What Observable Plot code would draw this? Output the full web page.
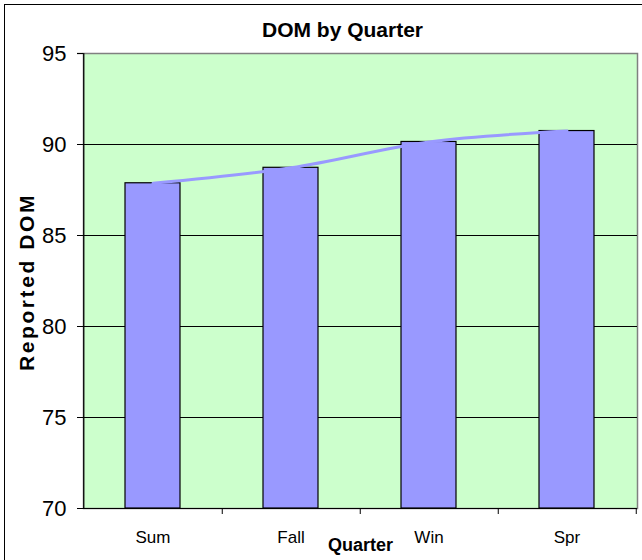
<!DOCTYPE html>
<html>
<head>
<meta charset="utf-8">
<script src="https://cdn.jsdelivr.net/npm/d3@7"></script>
<script src="https://cdn.jsdelivr.net/npm/@observablehq/plot@0.6"></script>
<style>
  html, body { margin: 0; padding: 0; background: #fff; }
  #wrap { position: relative; width: 642px; height: 560px; overflow: hidden; }
  #border { position: absolute; left: 4px; top: 4px; width: 800px; height: 800px; border: 1px solid #000; }
  #chart { position: absolute; left: 0; top: 0; }
</style>
</head>
<body>
<div id="wrap"><div id="border"></div><div id="chart"></div></div>
<script>
const quarters = ["Sum", "Fall", "Win", "Spr"];
const dom = [87.87, 88.72, 90.14, 90.74];
const yTicks = [70, 75, 80, 85, 90, 95];
const title = "DOM by Quarter";
const xLabel = "Quarter";
const yLabel = "Reported DOM";

const data = quarters.map((q, i) => ({quarter: q, dom: dom[i]}));
const font = "'Liberation Sans', Arial, sans-serif";
const W = 642, H = 560, mL = 83, mR = 5, mT = 53, mB = 52;
const frameW = W - mL - mR, frameH = H - mT - mB;
const halfStep = frameW / quarters.length / 2;

const chart = Plot.plot({
  width: W,
  height: H,
  marginLeft: mL,
  marginRight: mR,
  marginTop: mT,
  marginBottom: mB,
  style: {fontFamily: font, background: "transparent", overflow: "visible"},
  x: {domain: quarters, type: "band", paddingInner: 0.6, paddingOuter: 0.3, axis: null},
  y: {domain: [70, 95], axis: null},
  marks: [
    Plot.frame({fill: "#ccffcc", stroke: "#808080", strokeWidth: 1.5}),
    // gridlines + left ticks
    Plot.ruleY(yTicks.filter(d => d < 95), {y: d => d, stroke: "#000", strokeWidth: 1.2, insetLeft: -6}),
    Plot.ruleY([95], {y: d => d, stroke: "#000", strokeWidth: 1.2, insetLeft: -6, insetRight: frameW}),
    // left axis line
    Plot.ruleX([quarters[0]], {x: d => d, dx: -halfStep, stroke: "#000", strokeWidth: 1.2}),
    // category boundary ticks
    Plot.ruleX(quarters, {x: d => d, dx: halfStep, stroke: "#000", strokeWidth: 1, insetTop: frameH, insetBottom: -6}),
    Plot.barY(data, {x: "quarter", y1: 70, y2: "dom", fill: "#9999ff", stroke: "#000", strokeWidth: 1.2}),
    Plot.line(data, {x: "quarter", y: "dom", stroke: "#9999ff", strokeWidth: 3, curve: "catmull-rom"}),
    // y tick labels
    Plot.text(yTicks, {y: d => d, text: d => String(d), frameAnchor: "left", dx: -17, textAnchor: "end", lineAnchor: "middle", fontSize: 22, fill: "#000"}),
    // x tick labels
    Plot.text(quarters, {x: d => d, text: d => d, frameAnchor: "bottom", dy: 29, lineAnchor: "middle", fontSize: 17, fill: "#000"}),
    // title
    Plot.text([title], {text: d => d, frameAnchor: "top", dx: -18, dy: -23, lineAnchor: "middle", fontSize: 21, fontWeight: "bold", fill: "#000"}),
    // x axis label
    Plot.text([xLabel], {text: d => d, frameAnchor: "bottom", dy: 37, lineAnchor: "middle", fontSize: 18, fontWeight: "bold", fill: "#000"}),
    // y axis label
    Plot.text([yLabel], {text: d => d, frameAnchor: "left", dx: -56, dy: 1, rotate: -90, textAnchor: "middle", lineAnchor: "middle", fontSize: 21, fontWeight: "bold", fill: "#000"})
  ]
});
d3.select(chart).selectAll("text").filter(function() { return this.textContent === yLabel; })
  .style("letter-spacing", "2.6px");
document.getElementById("chart").appendChild(chart);
</script>
</body>
</html>
